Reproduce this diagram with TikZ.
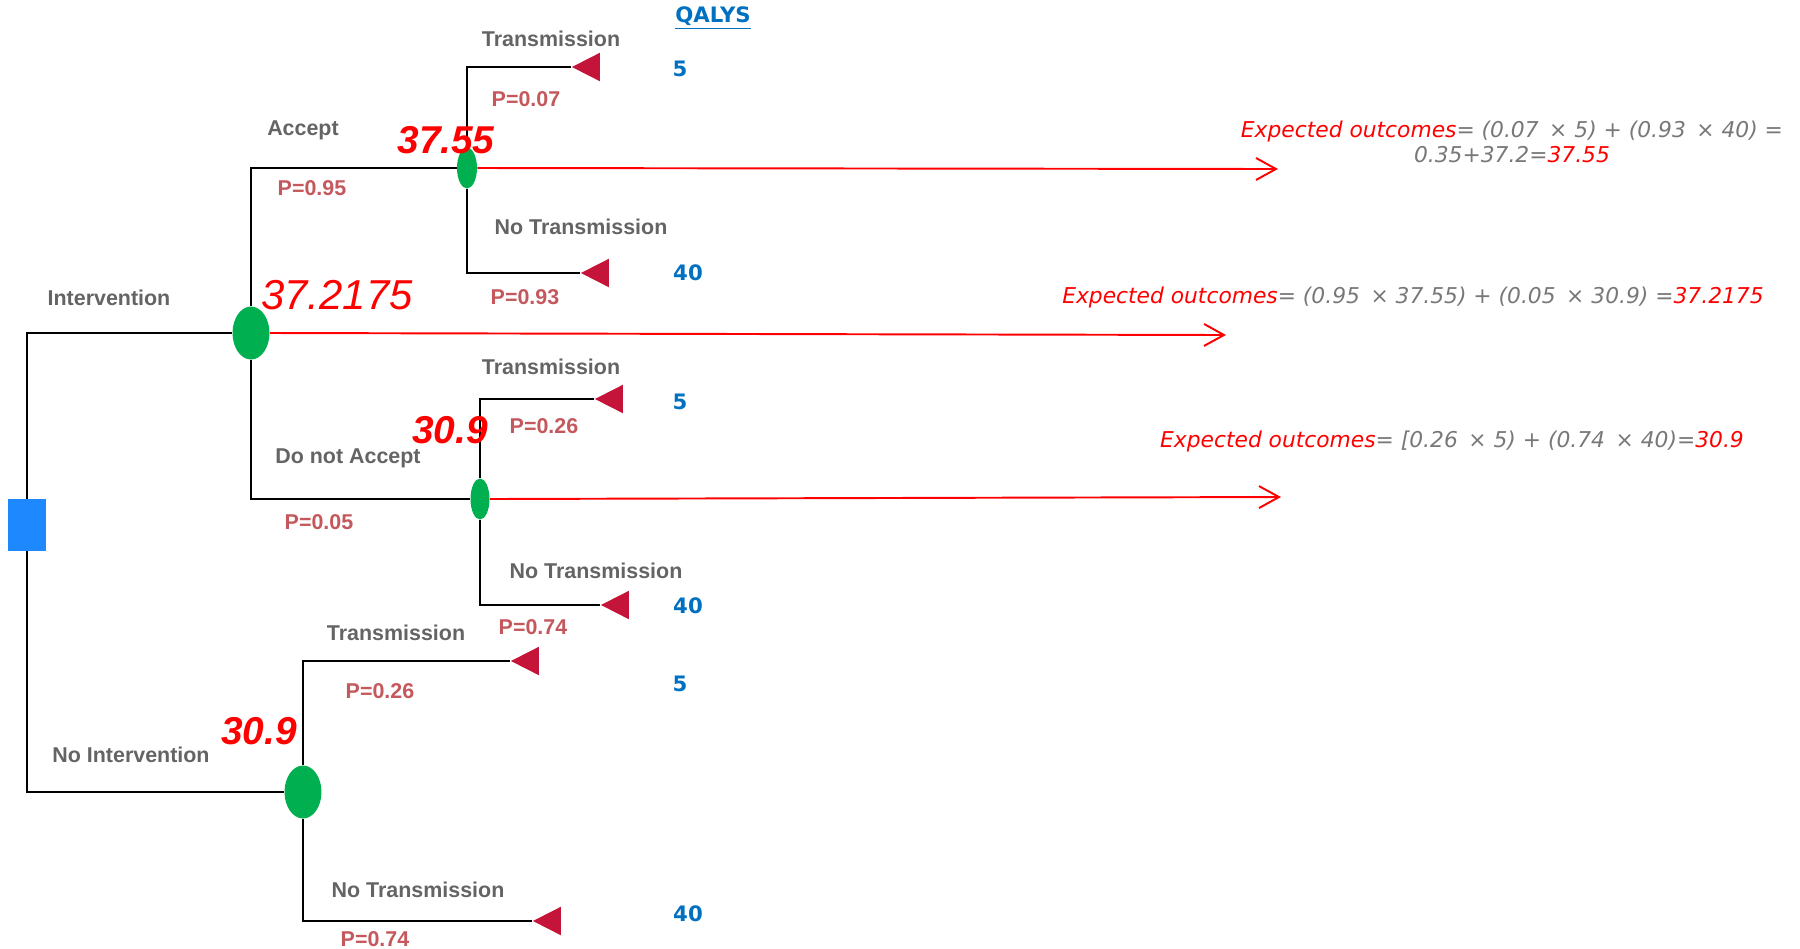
\documentclass[tikz,border=0pt]{standalone}
\usepackage{fontspec}
\setmainfont{Liberation Sans}
\newfontfamily\dejavu{DejaVu Sans}
\usepackage{tikz}
\usetikzlibrary{arrows.meta, shapes.geometric}
\definecolor{decblue}{RGB}{30,136,255}
\definecolor{chgreen}{RGB}{0,176,80}
\definecolor{termred}{RGB}{196,20,58}
\definecolor{lblgray}{RGB}{100,100,100}
\definecolor{probred}{RGB}{196,88,92}
\definecolor{qblue}{RGB}{0,112,192}
\definecolor{calcgray}{RGB}{120,120,120}
\tikzset{
  decision/.style={
    rectangle,
    fill=decblue,
    minimum width=0.76cm,
    minimum height=1.04cm,
    inner sep=0pt
  },
  chance/.style={
    ellipse,
    fill=chgreen,
    minimum width=0.74cm,
    minimum height=1.06cm,
    inner sep=0pt
  },
  smallchance/.style={
    chance,
    minimum width=0.4cm,
    minimum height=0.82cm
  },
  terminal/.style={
    isosceles triangle,
    shape border rotate=180,
    isosceles triangle stretches,
    fill=termred,
    minimum width=0.57cm,
    minimum height=0.56cm,
    inner sep=0pt
  },
  branch/.style={
    draw=black,
    line width=1.2pt
  },
  result/.style={
    draw=red,
    line width=1.1pt,
    -{Straight Barb[length=0.4cm, width=0.44cm]}
  },
  branchtext/.style={text=lblgray, font=\fontsize{12.2}{14}\selectfont\bfseries, inner sep=0pt},
  probtext/.style={text=probred, font=\fontsize{12.2}{14}\selectfont\bfseries, inner sep=0pt},
  qalytext/.style={text=qblue, font=\dejavu\fontsize{12.1}{14}\selectfont\bfseries, inner sep=0pt},
  evtext/.style={text=red, font=\fontsize{22.1}{26}\selectfont\bfseries\itshape, inner sep=0pt},
  calctext/.style={text=calcgray, font=\dejavu\fontsize{12.4}{14.4}\selectfont\itshape, align=center, inner sep=0pt}
}

\begin{document}
\begin{tikzpicture}[x=0.02cm, y=-0.02cm]
    \path[use as bounding box] (0,0) rectangle (1800,948);

    \node[decision] (dec) at (27,525) {};
    \node[chance] (int) at (251,333) {};
    \node[smallchance] (acc) at (467,168) {};
    \node[smallchance, minimum width=0.38cm] (noacc) at (480,499) {};
    \node[chance] (noint) at (303,792) {};

    \node[terminal, anchor=apex] (acctr) at (571,67) {};
    \node[terminal, anchor=apex] (accnotr) at (580,273) {};
    \node[terminal, anchor=apex] (noacctr) at (594,399) {};
    \node[terminal, anchor=apex] (noaccnotr) at (600,605) {};
    \node[terminal, anchor=apex] (nointtr) at (510,661) {};
    \node[terminal, anchor=apex] (nointnotr) at (532,921) {};

    \coordinate (accend) at (1278,169);
    \coordinate (intend) at (1226,335);
    \coordinate (noaccend) at (1281,497);

    \draw[branch] (dec.north) |- (int.west);
    \draw[branch] (dec.south) |- (noint.west);
    \draw[branch] (int.north) |- (acc.west);
    \draw[branch] (int.south) |- (noacc.west);
    \draw[branch] (acc.north) |- (acctr.apex);
    \draw[branch] (acc.south) |- (accnotr.apex);
    \draw[branch] (noacc.north) |- (noacctr.apex);
    \draw[branch] (noacc.south) |- (noaccnotr.apex);
    \draw[branch] (noint.north) |- (nointtr.apex);
    \draw[branch] (noint.south) |- (nointnotr.apex);

    \draw[result] (acc.east) -- (accend);
    \draw[result] (int.east) -- (intend);
    \draw[result] (noacc.east) -- (noaccend);

    \node[qalytext] (qalys) at (713,18) {\underline{QALYS}};
    \node[qalytext] (q1) at (680,69) {5};
    \node[qalytext] (q2) at (688,273) {40};
    \node[qalytext] (q3) at (680,402) {5};
    \node[qalytext] (q4) at (688,606) {40};
    \node[qalytext] (q5) at (680,684) {5};
    \node[qalytext] (q6) at (688,914) {40};

    \node[branchtext] (lint) at (109,298) {Intervention};
    \node[branchtext] (lnoint) at (131,755) {No Intervention};
    \node[branchtext] (lacc) at (303,130) {Accept};
    \node[branchtext] (lnoacc) at (348,458) {Do not Accept};
    \node[branchtext] (ltr1) at (551,39) {Transmission};
    \node[branchtext] (lnotr1) at (581,227) {No Transmission};
    \node[branchtext] (ltr2) at (551,367) {Transmission};
    \node[branchtext] (lnotr2) at (596,571) {No Transmission};
    \node[branchtext] (ltr3) at (396,633) {Transmission};
    \node[branchtext] (lnotr3) at (418,890) {No Transmission};

    \node[probtext] (pacc) at (312,188) {P=0.95};
    \node[probtext] (pnoacc) at (319,522) {P=0.05};
    \node[probtext] (ptr1) at (526,99) {P=0.07};
    \node[probtext] (pnotr1) at (525,297) {P=0.93};
    \node[probtext] (ptr2) at (544,426) {P=0.26};
    \node[probtext] (pnotr2) at (533,627) {P=0.74};
    \node[probtext] (ptr3) at (380,691) {P=0.26};
    \node[probtext] (pnotr3) at (375,939) {P=0.74};

    \node[evtext, font=\fontsize{23.8}{28}\selectfont\itshape] (evint) at (337,295) {37.2175};
    \node[evtext] (evacc) at (446,140) {37.55};
    \node[evtext] (evnoacc) at (450,430) {30.9};
    \node[evtext] (evnoint) at (259,731) {30.9};

    \node[calctext] (calcacc) at (1512,142) {\textcolor{red}{Expected outcomes}= (0.07 \,× 5) + (0.93 \,× 40) =\\0.35+37.2=\textcolor{red}{37.55}};
    \node[calctext] (calcint) at (1413,297) {\textcolor{red}{Expected outcomes}= (0.95 \,× 37.55) + (0.05 \,× 30.9) =\textcolor{red}{37.2175}};
    \node[calctext] (calcnoacc) at (1452,441) {\textcolor{red}{Expected outcomes}= [0.26 \,× 5) + (0.74 \,× 40)=\textcolor{red}{30.9}};
\end{tikzpicture}
\end{document}
